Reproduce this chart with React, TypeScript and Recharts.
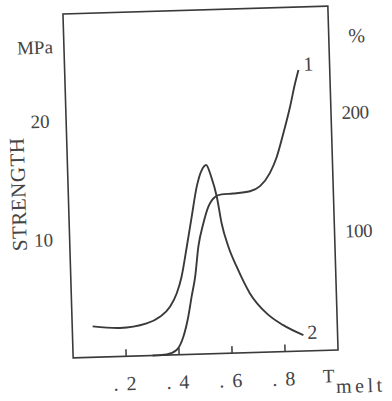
import React from 'react'
import {
  LineChart,
  Line,
  XAxis,
  YAxis,
  ReferenceArea,
} from 'recharts'

// curve 1 (right axis, %)
const curve1X = [0.3, 0.315, 0.353, 0.391, 0.418, 0.439, 0.454, 0.469, 0.485, 0.506, 0.527, 0.553, 0.578, 0.622, 0.686, 0.724, 0.763, 0.79, 0.818, 0.846, 0.868, 0.882]
const curve1Pct = [0, 0, 0.5, 4, 15, 32, 49, 65, 91, 110, 124, 132, 134, 134.5, 136, 140, 151, 164, 184, 206, 226, 237]

// curve 2 (left axis, MPa)
const curve2X = [0.077, 0.18, 0.281, 0.332, 0.371, 0.398, 0.418, 0.441, 0.463, 0.485, 0.506, 0.523, 0.541, 0.56, 0.575, 0.598, 0.627, 0.674, 0.735, 0.796, 0.871]
const curve2Mpa = [2.6, 2.4, 2.72, 3.25, 4.06, 5.18, 6.57, 9.08, 11.6, 14.1, 15.5, 15.92, 14.92, 13.2, 10.97, 8.98, 7.27, 4.99, 3.26, 2.23, 1.34]

const xTicks = [0.2, 0.4, 0.6, 0.8]
const xTickLabels = ['.2', '.4', '.6', '.8']
const mpaTicks = [10, 20]
const pctTicks = [100, 200]

const W = 392
const H = 401
const PLOT_LEFT = 68
const PLOT_RIGHT = 333
const PLOT_TOP = 10
const PLOT_BOTTOM = 354

const INK = '#3a3a3a'
const TEXT = '#444'
const FONT = '"Liberation Serif", "Times New Roman", serif'

const data1 = curve1X.map((x, i) => ({ x, pct: curve1Pct[i] }))
const data2 = curve2X.map((x, i) => ({ x, mpa: curve2Mpa[i] }))

function XTick({ x, payload }: any) {
  const i = xTicks.indexOf(payload.value)
  return (
    <g>
      <line x1={x} x2={x} y1={PLOT_BOTTOM} y2={PLOT_BOTTOM - 7} stroke={INK} strokeWidth={1.5} />
      <text x={x + 2} y={388} textAnchor="middle" fontFamily={FONT} fontSize={20} letterSpacing={8} fill={TEXT}>
        {xTickLabels[i]}
      </text>
    </g>
  )
}

function LeftTick({ y, payload }: any) {
  return (
    <text x={42} y={y + 6.5} textAnchor="middle" fontFamily={FONT} fontSize={19} fill={TEXT}>
      {payload.value}
    </text>
  )
}

function RightTick({ y, payload }: any) {
  return (
    <text x={357} y={y + 6.5} textAnchor="middle" fontFamily={FONT} fontSize={19} letterSpacing={-0.5} fill={TEXT}>
      {payload.value}
    </text>
  )
}

const endMark = (label: string, last: number, dx: number, dy: number) => (p: any) => {
  if (p.index !== last) return <g key={p.index} />
  return (
    <text key={p.index} x={p.cx + dx} y={p.cy + dy} textAnchor="middle" fontFamily={FONT} fontSize={20} fill={TEXT}>
      {label}
    </text>
  )
}

export default function App() {
  return (
    <div
      style={{
        position: 'absolute',
        left: 0,
        top: 0,
        width: W,
        height: H,
        background: '#fff',
        transform: 'rotate(-1.7deg)',
        transformOrigin: '200.5px 182px',
      }}
    >
      <LineChart
        width={W}
        height={H}
        margin={{ top: PLOT_TOP, right: 0, bottom: 0, left: 0 }}
        style={{ overflow: 'visible' }}
      >
        <XAxis
          dataKey="x"
          type="number"
          domain={[0, 1]}
          ticks={xTicks}
          axisLine={false}
          tickLine={false}
          height={H - PLOT_BOTTOM}
          tick={<XTick />}
          allowDuplicatedCategory={false}
        />
        <YAxis
          yAxisId="left"
          domain={[0, 29]}
          ticks={mpaTicks}
          axisLine={false}
          tickLine={false}
          width={PLOT_LEFT}
          tick={<LeftTick />}
        />
        <YAxis
          yAxisId="right"
          orientation="right"
          domain={[0, 290]}
          ticks={pctTicks}
          axisLine={false}
          tickLine={false}
          width={W - PLOT_RIGHT}
          tick={<RightTick />}
        />
        <ReferenceArea
          yAxisId="left"
          x1={0}
          x2={1}
          y1={0}
          y2={29}
          fill="none"
          fillOpacity={0}
          stroke={INK}
          strokeWidth={1.6}
        />
        <Line
          yAxisId="right"
          data={data1}
          dataKey="pct"
          type="monotone"
          stroke={INK}
          strokeWidth={1.9}
          dot={endMark('1', data1.length - 1, 10, 1)}
          activeDot={false}
          isAnimationActive={false}
        />
        <Line
          yAxisId="left"
          data={data2}
          dataKey="mpa"
          type="monotone"
          stroke={INK}
          strokeWidth={1.9}
          dot={endMark('2', data2.length - 1, 9, 4)}
          activeDot={false}
          isAnimationActive={false}
        />
        <text x={39} y={49} textAnchor="middle" fontFamily={FONT} fontSize={19} fill={TEXT}>MPa</text>
        <text x={361} y={47} textAnchor="middle" fontFamily={FONT} fontSize={20} fill={TEXT}>%</text>
        <text
          x={25}
          y={189}
          transform="rotate(-90 25 189)"
          textAnchor="middle"
          fontFamily={FONT}
          fontSize={21}
          letterSpacing={0.5}
          fill={TEXT}
        >
          STRENGTH
        </text>
        <text x={317} y={386} fontFamily={FONT} fontSize={19} fill={TEXT}>T</text>
        <text x={330} y={397} fontFamily={FONT} fontSize={20} letterSpacing={3.5} fill={TEXT}>melt</text>
      </LineChart>
    </div>
  )
}
